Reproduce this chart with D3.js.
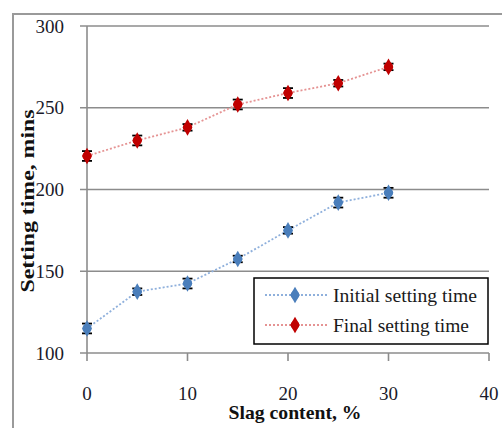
<!DOCTYPE html>
<html><head><meta charset="utf-8">
<script src="https://cdn.jsdelivr.net/npm/d3@7"></script>
<style>body{margin:0;background:#fff}svg{display:block}</style>
</head><body>
<script>
const slag = [0, 5, 10, 15, 20, 25, 30];
const initialTime = [115, 137.5, 142.5, 157.5, 175, 192, 198];
const initialErr = [3, 2, 3, 2, 2, 3, 3];
const finalTime = [220.5, 230, 238, 252, 259, 265, 275];
const finalErr = [3, 3, 2, 3, 3, 2, 2];
const xTicks = [0, 10, 20, 30, 40];
const yTicks = [100, 150, 200, 250, 300];
const seriesNames = ["Initial setting time", "Final setting time"];

const W = 502, H = 428;
const svg = d3.select("body").append("svg").attr("width", W).attr("height", H);
const font = "'Liberation Serif', serif";

svg.append("rect").attr("x", 13).attr("y", 14).attr("width", 500).attr("height", 430)
  .attr("fill", "none").attr("stroke", "#9a9a9a").attr("stroke-width", 2);

const x = d3.scaleLinear().domain([0, 40]).range([87, 489]);
const y = d3.scaleLinear().domain([100, 300]).range([353, 26]);

svg.append("g").selectAll("line").data(yTicks).join("line")
  .attr("x1", 80).attr("x2", x(40)).attr("y1", d => y(d)).attr("y2", d => y(d))
  .attr("stroke", "#8c8c8c").attr("stroke-width", 1.6);
svg.append("line").attr("x1", x(0)).attr("x2", x(0)).attr("y1", y(300)).attr("y2", y(100) + 8)
  .attr("stroke", "#8c8c8c").attr("stroke-width", 1.6);
svg.append("g").selectAll("line").data(xTicks.slice(1)).join("line")
  .attr("x1", d => x(d)).attr("x2", d => x(d)).attr("y1", y(100)).attr("y2", y(100) + 8)
  .attr("stroke", "#8c8c8c").attr("stroke-width", 1.6);

svg.append("g").selectAll("text").data(yTicks).join("text")
  .attr("x", 64).attr("y", d => y(d)).attr("dy", "0.35em").attr("text-anchor", "end")
  .attr("font-family", font).attr("font-size", 19).attr("fill", "#1a1a2a").text(d => d);
svg.append("g").selectAll("text").data(xTicks).join("text")
  .attr("x", d => x(d)).attr("y", 393).attr("dy", "0.35em").attr("text-anchor", "middle")
  .attr("font-family", font).attr("font-size", 19).attr("fill", "#1a1a2a").text(d => d);

svg.append("text").attr("x", 295).attr("y", 419).attr("text-anchor", "middle")
  .attr("font-family", font).attr("font-weight", "bold").attr("font-size", 19)
  .attr("textLength", 133).attr("lengthAdjust", "spacingAndGlyphs")
  .attr("fill", "#111").text("Slag content, %");
svg.append("text").attr("transform", "translate(34,201) rotate(-90)").attr("text-anchor", "middle")
  .attr("font-family", font).attr("font-weight", "bold").attr("font-size", 19)
  .attr("textLength", 183).attr("lengthAdjust", "spacingAndGlyphs")
  .attr("fill", "#111").text("Setting time, mins");

const series = [
  {name: seriesNames[0], vals: initialTime, err: initialErr, color: "#4a7ebb", line: "#8fb0dc"},
  {name: seriesNames[1], vals: finalTime, err: finalErr, color: "#c00000", line: "#e59393"}
];
const marker = d3.symbol().type(d3.symbolDiamond).size(80);

series.forEach(s => {
  const pts = slag.map((d, i) => ({x: d, y: s.vals[i], e: s.err[i]}));
  svg.append("path").datum(pts)
    .attr("d", d3.line().x(d => x(d.x)).y(d => y(d.y)))
    .attr("fill", "none").attr("stroke", s.line).attr("stroke-width", 1.8)
    .attr("stroke-dasharray", "2,2");
  const eb = svg.append("g").attr("stroke", "#000").attr("stroke-width", 1.8);
  pts.forEach(d => {
    eb.append("line").attr("x1", x(d.x)).attr("x2", x(d.x))
      .attr("y1", y(d.y - d.e)).attr("y2", y(d.y + d.e));
    [d.y - d.e, d.y + d.e].forEach(v => eb.append("line")
      .attr("x1", x(d.x) - 5).attr("x2", x(d.x) + 5).attr("y1", y(v)).attr("y2", y(v)));
  });
  svg.append("g").selectAll("path").data(pts).join("path")
    .attr("transform", d => `translate(${x(d.x)},${y(d.y)})`)
    .attr("d", marker).attr("fill", s.color);
  svg.append("g").selectAll("circle").data(pts).join("circle")
    .attr("cx", d => x(d.x)).attr("cy", d => y(d.y)).attr("r", 4.6).attr("fill", s.color);
});

const lg = svg.append("g");
lg.append("rect").attr("x", 254).attr("y", 278).attr("width", 234).attr("height", 66)
  .attr("fill", "#fff").attr("stroke", "#000").attr("stroke-width", 1.5);
series.forEach((s, i) => {
  const ly = 295 + i * 30;
  lg.append("line").attr("x1", 265).attr("x2", 327).attr("y1", ly).attr("y2", ly)
    .attr("stroke", s.line).attr("stroke-width", 1.8).attr("stroke-dasharray", "2,2");
  lg.append("path").attr("transform", `translate(295,${ly})`).attr("d", marker).attr("fill", s.color);
  lg.append("circle").attr("cx", 295).attr("cy", ly).attr("r", 4.2).attr("fill", s.color);
  lg.append("text").attr("x", 333).attr("y", ly).attr("dy", "0.35em")
    .attr("font-family", font).attr("font-size", 19).attr("fill", "#1a1a1a")
    .attr("textLength", i === 0 ? 144 : 136).attr("lengthAdjust", "spacingAndGlyphs")
    .text(s.name);
});
</script>
</body></html>
